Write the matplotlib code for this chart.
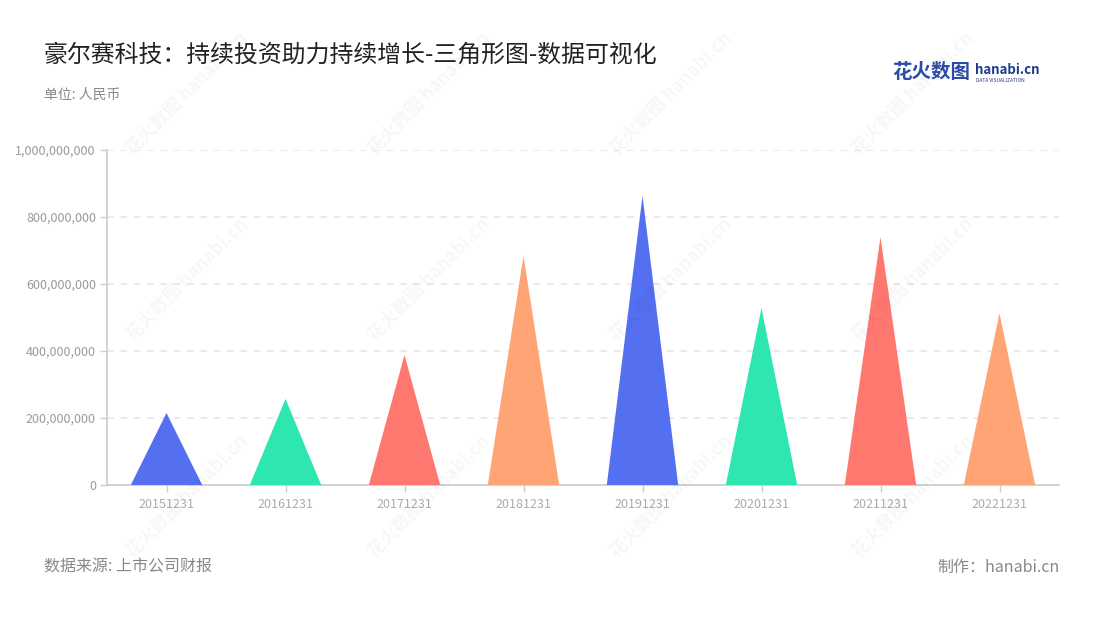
import matplotlib
matplotlib.use("Agg")
import matplotlib.pyplot as plt
from matplotlib.ticker import FuncFormatter

plt.rcParams['font.family'] = ['Noto Sans CJK SC', 'DejaVu Sans']

# data
categories = ['20151231', '20161231', '20171231', '20181231',
              '20191231', '20201231', '20211231', '20221231']
values = [215e6, 257e6, 388e6, 684e6, 863e6, 528e6, 740e6, 513e6]
palette = ['#5470F0', '#2DE6B0', '#FF7870', '#FFA474']

fig = plt.figure(figsize=(11, 6.2), dpi=100, facecolor='white')
ax = fig.add_axes([107 / 1100, 1 - 485 / 620, (1059 - 107) / 1100, (485 - 150) / 620])

half = 0.3
for i, v in enumerate(values):
    ax.fill([i - half, i, i + half], [0, v, 0], color=palette[i % 4], lw=0, zorder=3)

ax.set_xlim(-0.5, len(categories) - 0.5)
ax.set_ylim(0, 1e9)
ax.set_xticks(range(len(categories)))
ax.set_xticklabels(categories)
ax.set_yticks([0, 2e8, 4e8, 6e8, 8e8, 1e9])
ax.yaxis.set_major_formatter(FuncFormatter(lambda v, p: f'{int(v):,}'))

for s in ['top', 'right']:
    ax.spines[s].set_visible(False)
for s in ['left', 'bottom']:
    ax.spines[s].set_color('#CCCCCC')
    ax.spines[s].set_linewidth(1.2)
ax.tick_params(axis='both', colors='#CCCCCC', length=5, width=1)
ax.tick_params(axis='y', labelcolor='#999999', labelsize=9, pad=3)
ax.tick_params(axis='x', labelcolor='#A8ABB5', labelsize=9, pad=4)
ax.grid(axis='y', color='#E6E6E6', linestyle=(0, (4, 4)), lw=1.2, zorder=0)
ax.set_axisbelow(True)

# faint watermarks
for wx in [0.17, 0.39, 0.61, 0.83]:
    for wy in [0.85, 0.55, 0.2]:
        fig.text(wx, wy, '花火数图 hanabi.cn', rotation=45, fontsize=13,
                 color='#000000', alpha=0.035, ha='center', va='center',
                 fontweight='bold', zorder=0)

# titles and footer
fig.text(44 / 1100, 1 - 55 / 620, '豪尔赛科技：持续投资助力持续增长-三角形图-数据可视化',
         fontsize=17.2, color='#222222', va='center', ha='left')
fig.text(44 / 1100, 1 - 95 / 620, '单位: 人民币', fontsize=10, color='#888888',
         va='center', ha='left')
fig.text(44 / 1100, 1 - 567 / 620, '数据来源: 上市公司财报', fontsize=11.5,
         color='#888888', va='center', ha='left')
fig.text(1060 / 1100, 1 - 567 / 620, '制作：hanabi.cn', fontsize=11.5,
         color='#888888', va='center', ha='right')

# logo
fig.text(892 / 1100, 1 - 73 / 620, '花火数图', fontsize=14, color='#2A4BA8',
         fontweight='bold', va='center', ha='left')
fig.text(975 / 1100, 1 - 70 / 620, 'hanabi.cn', fontsize=9.5, color='#1E3A8A',
         fontweight='bold', va='center', ha='left')
fig.text(976 / 1100, 1 - 80 / 620, 'DATA VISUALIZATION', fontsize=3.5,
         color='#1E3A8A', va='center', ha='left')

fig.savefig('out.png', dpi=100, facecolor='white')
